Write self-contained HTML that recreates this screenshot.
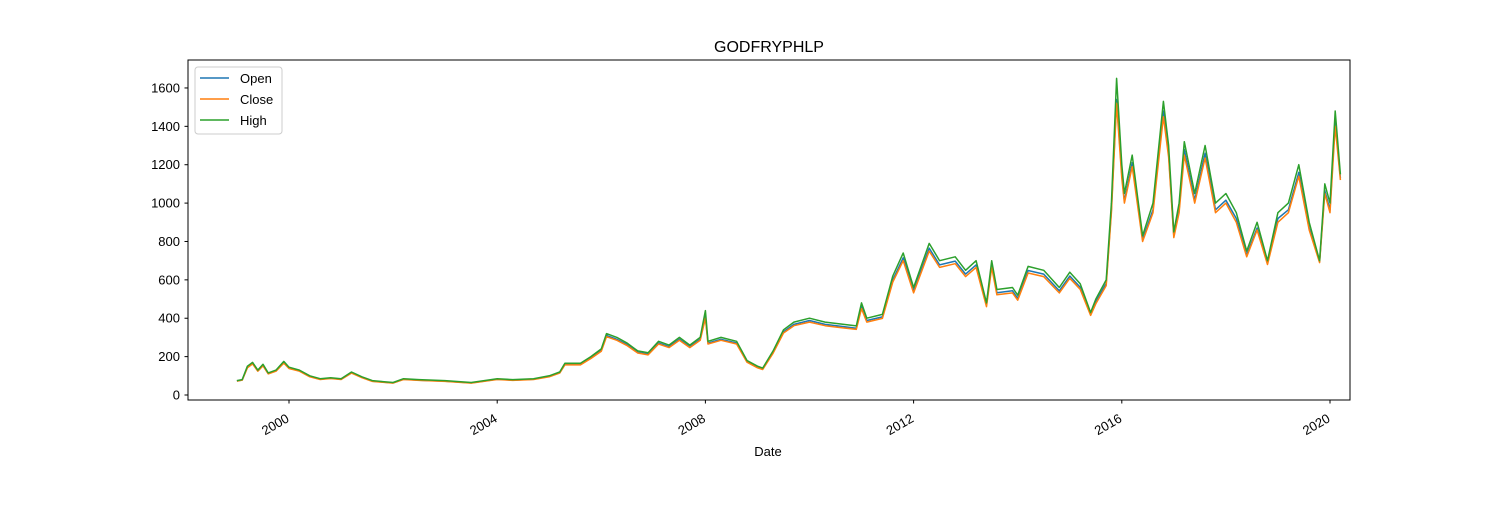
<!DOCTYPE html>
<html><head><meta charset="utf-8"><style>
body{margin:0;background:#fff}
svg{font-family:"Liberation Sans","DejaVu Sans",sans-serif}
</style></head><body>
<svg id="chart" width="1500" height="500" xmlns="http://www.w3.org/2000/svg">
<rect width="1500" height="500" fill="#fff"/>
<text x="769" y="52" font-size="16" text-anchor="middle">GODFRYPHLP</text>
<g id="plot"></g>
<rect x="188" y="60" width="1162" height="340" fill="none" stroke="#000" stroke-width="1"/>
<text x="768" y="456" font-size="13" text-anchor="middle">Date</text>
<g>
<rect x="195" y="67" width="87" height="67" rx="3" fill="#fff" fill-opacity="0.8" stroke="#ccc"/>
<g><line x1="200" y1="78" x2="229" y2="78" stroke="#1f77b4" stroke-width="1.5"/><text x="240" y="83" font-size="13">Open</text></g>
<g><line x1="200" y1="99" x2="229" y2="99" stroke="#ff7f0e" stroke-width="1.5"/><text x="240" y="104" font-size="13">Close</text></g>
<g><line x1="200" y1="120" x2="229" y2="120" stroke="#2ca02c" stroke-width="1.5"/><text x="240" y="125" font-size="13">High</text></g>
</g>
</svg>
<script>
const dates=[1999.0,1999.1,1999.2,1999.3,1999.4,1999.5,1999.6,1999.75,1999.9,2000.0,2000.2,2000.4,2000.6,2000.8,2001.0,2001.2,2001.4,2001.6,2001.8,2002.0,2002.2,2002.5,2003.0,2003.5,2004.0,2004.3,2004.7,2005.0,2005.2,2005.3,2005.6,2005.8,2006.0,2006.1,2006.3,2006.5,2006.7,2006.9,2007.1,2007.3,2007.5,2007.7,2007.9,2008.0,2008.05,2008.3,2008.6,2008.8,2009.0,2009.1,2009.3,2009.5,2009.7,2010.0,2010.3,2010.6,2010.9,2011.0,2011.1,2011.4,2011.6,2011.8,2012.0,2012.3,2012.5,2012.8,2013.0,2013.2,2013.4,2013.5,2013.6,2013.9,2014.0,2014.2,2014.5,2014.8,2015.0,2015.2,2015.4,2015.5,2015.7,2015.8,2015.9,2016.0,2016.05,2016.2,2016.4,2016.6,2016.8,2016.9,2017.0,2017.1,2017.2,2017.4,2017.6,2017.8,2018.0,2018.2,2018.4,2018.6,2018.8,2019.0,2019.2,2019.4,2019.6,2019.8,2019.9,2020.0,2020.1,2020.2];
const highVals=[75,80,150,170,130,160,115,130,175,145,130,100,85,90,85,120,95,75,70,65,85,80,75,65,85,80,85,100,120,165,165,200,240,320,300,270,230,220,280,260,300,260,300,440,280,300,280,180,150,140,230,340,380,400,380,370,360,480,400,420,620,740,560,790,700,720,650,700,480,700,550,560,520,670,650,560,640,580,430,500,600,1000,1650,1200,1050,1250,830,1000,1530,1300,850,1000,1320,1050,1300,1000,1050,950,750,900,700,950,1000,1200,900,700,1100,1000,1480,1150];
const closeVals=[72,77,142,162,124,152,110,124,166,138,124,95,81,86,81,114,90,71,66,62,81,76,71,62,81,76,81,95,114,157,157,190,228,304,285,257,219,209,266,247,285,247,285,400,266,285,266,171,142,133,218,323,361,380,361,351,342,450,380,399,589,700,532,750,665,684,617,665,460,665,522,532,494,636,617,532,608,551,415,475,570,950,1520,1130,1000,1190,800,950,1450,1240,820,950,1250,1000,1235,950,1000,900,720,860,680,900,950,1140,860,690,1050,950,1400,1120];
const openVals=[73,78,145,165,126,155,112,126,170,140,126,97,82,87,82,116,92,72,67,63,82,77,72,63,82,77,82,97,116,160,160,194,232,310,290,262,223,213,271,252,290,252,290,410,271,290,271,174,145,136,222,330,368,388,368,358,348,460,388,407,600,715,543,765,678,698,630,678,470,678,533,543,504,649,630,543,620,562,420,485,582,965,1540,1150,1010,1210,810,965,1480,1260,830,965,1280,1015,1260,965,1015,920,730,870,685,920,965,1160,870,695,1065,965,1430,1130];
const yTicks=[0,200,400,600,800,1000,1200,1400,1600];
const xTicks=[2000,2004,2008,2012,2016,2020];

const NS="http://www.w3.org/2000/svg";
const plot=document.getElementById('plot');
function xs(d){return 289+(d-2000)*52.05;}
function ys(v){return 395-v*0.1919;}
function mk(t,a){const e=document.createElementNS(NS,t);for(const k in a)e.setAttribute(k,a[k]);plot.appendChild(e);return e;}
yTicks.forEach(v=>{
  const y=ys(v);
  const t=mk('line',{x1:184.5,x2:188,y1:y,y2:y,stroke:'#000'});
  
  
  const l=mk('text',{x:180,y:y+4.5,'font-size':13,'text-anchor':'end'});
  l.textContent=v;
  
  
});
xTicks.forEach(v=>{
  const x=xs(v);
  const ax=x+1, ay=421;
  const t=mk('line',{x1:x,x2:x,y1:400,y2:403.5,stroke:'#000'});
  
  
  const l=mk('text',{x:ax,y:ay,'font-size':13,'text-anchor':'end',transform:`rotate(-30 ${ax} ${ay})`});
  l.textContent=v;
  
  
});
function line(vals,color,name){
  const p=mk('polyline',{points:vals.map((v,i)=>xs(dates[i]).toFixed(1)+','+ys(v).toFixed(1)).join(' '),fill:'none',stroke:color,'stroke-width':1.5,'stroke-linejoin':'round'});
  
  
}
line(openVals,'#1f77b4','open-line');
line(closeVals,'#ff7f0e','close-line');
line(highVals,'#2ca02c','high-line');
</script>
</body></html>
